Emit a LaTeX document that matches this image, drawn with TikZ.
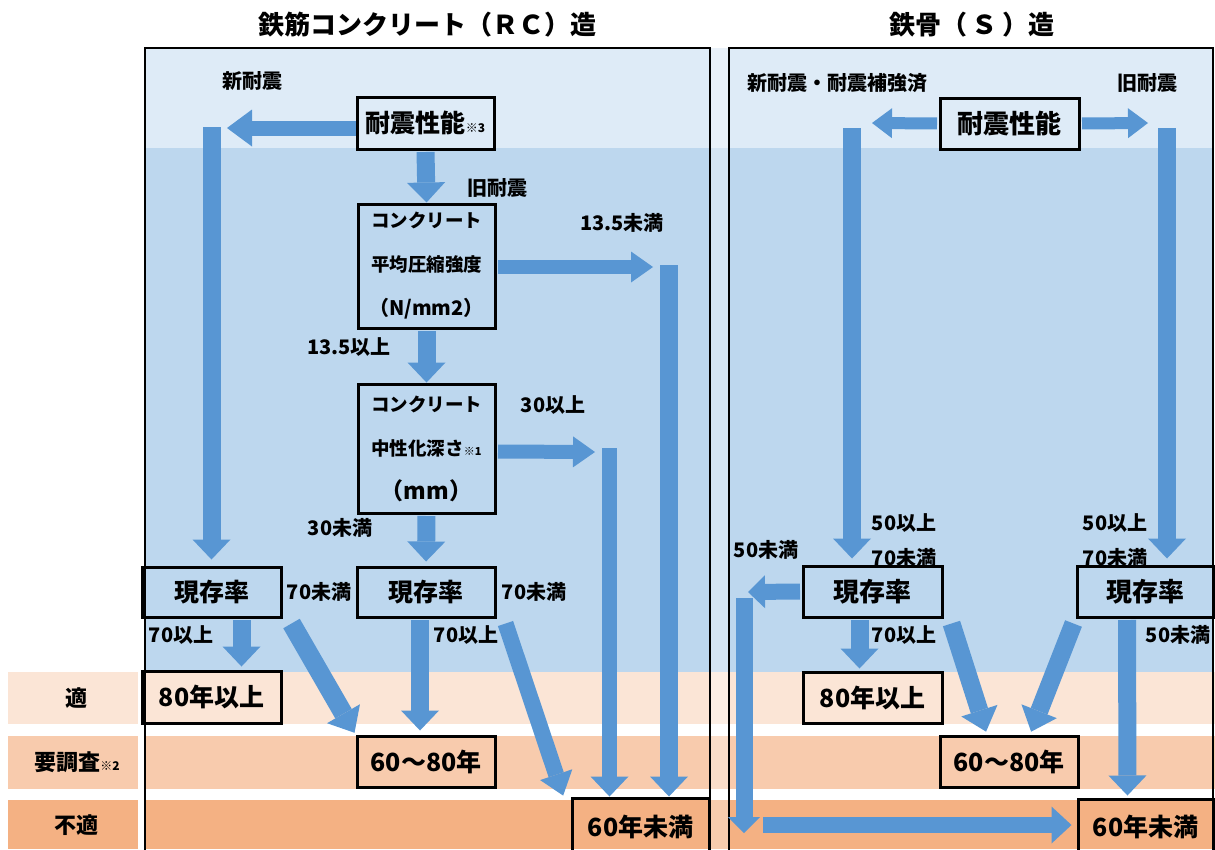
\documentclass[tikz,border=0pt]{standalone}
\usepackage{fontspec}
\setmainfont{Noto Sans CJK JP}
\usetikzlibrary{arrows.meta}
\definecolor{lblue}{HTML}{DEEBF7}
\definecolor{mblue}{HTML}{BDD7EE}
\definecolor{bandA}{HTML}{FBE5D6}
\definecolor{bandB}{HTML}{F8CBAD}
\definecolor{bandC}{HTML}{F4B183}
\definecolor{arr}{HTML}{5896D3}
\newcommand{\smallnote}[1]{{\fontsize{12}{12}\selectfont #1}}
\tikzset{
  box/.style={draw=black, line width=3pt, inner sep=0pt, font=\bfseries\fontsize{25}{28}\selectfont},
  cbox/.style={draw=black, line width=3pt, inner sep=0pt, align=center, font=\bfseries\fontsize{18.5}{44}\selectfont},
  lbl/.style={font=\bfseries\fontsize{20}{22}\selectfont, inner sep=0pt},
  ttl/.style={font=\bfseries\fontsize{26}{30}\selectfont, inner sep=0pt},
  varr/.style={draw=arr, line width=18pt, -{Triangle[width=38pt,length=20pt,line width=0pt]}},
  harrA/.style={draw=arr, line width=15pt, -{Triangle[width=37pt,length=25pt,line width=0pt]}},
  harrB/.style={draw=arr, line width=14pt, -{Triangle[width=31pt,length=22pt,line width=0pt]}},
  harrC/.style={draw=arr, line width=12pt, -{Triangle[width=30pt,length=20pt,line width=0pt]}},
  darr/.style={draw=arr, line width=18pt, -{Triangle[width=38pt,length=22pt,line width=0pt]}},
}
\begin{document}
\begin{tikzpicture}[x=1pt,y=-1pt]
\useasboundingbox (0,0) rectangle (1215,849);
% background bands
\fill[lblue] (145,48) rectangle (1213,148);
\fill[mblue] (145,148) rectangle (1213,672);
\fill[bandA] (145,672) rectangle (1215,724);
\fill[bandB] (145,736) rectangle (1215,789);
\fill[bandC] (145,800) rectangle (1215,849);
\fill[white,opacity=0.35] (711,48) rectangle (728,849);
\fill[bandA] (8,672) rectangle (138,724);
\fill[bandB] (8,736) rectangle (138,789);
\fill[bandC] (8,800) rectangle (138,849);
% panels
\draw[line width=1.2pt] (145,48) rectangle (710,870);
\draw[line width=1.2pt] (729,48) rectangle (1213,870);

% titles
\node[ttl] (t1) at (427,25) {鉄筋コンクリート（ＲＣ）造};
\node[ttl] (t2) at (972,25) {鉄骨（\,Ｓ\,）造};

% band labels
\node[font=\bfseries\fontsize{22}{24}\selectfont] (bA) at (76,698) {適};
\node[font=\bfseries\fontsize{22}{24}\selectfont] (bB) at (77,762) {要調査\smallnote{※2}};
\node[font=\bfseries\fontsize{22}{24}\selectfont] (bC) at (76,825) {不適};

% ===== RC panel =====
\node[lbl] (shinL) at (252,81) {新耐震};
\node[box, minimum width=137pt, minimum height=52pt] (tsL) at (425.5,123) {耐震性能\smallnote{※3}};
\node[lbl] (kyuL) at (497,188) {旧耐震};
\node[cbox, minimum width=137pt, minimum height=124pt] (c1) at (426.5,266) {コンクリート\\平均圧縮強度\\{\fontsize{20}{20}\selectfont （N/mm2）}};
\node[lbl] (l135u) at (622,223) {13.5未満};
\node[lbl] (l135o) at (349,347) {13.5以上};
\node[cbox, minimum width=137pt, minimum height=129pt] (c2) at (426.5,448.5) {コンクリート\\中性化深さ{\fontsize{11}{11}\selectfont ※1}\\{\fontsize{23}{23}\selectfont （mm）}};
\node[lbl] (l30o) at (553,405) {30以上};
\node[lbl] (l30u) at (340,528) {30未満};
\node[box, minimum width=139pt, minimum height=50pt] (gL1) at (211.5,592) {現存率};
\node[box, minimum width=138pt, minimum height=50pt] (gL2) at (426,592) {現存率};
\node[lbl] (l70uA) at (319,592) {70未満};
\node[lbl] (l70uB) at (534,592) {70未満};
\node[lbl] (l70oA) at (181,635) {70以上};
\node[lbl] (l70oB) at (466,635) {70以上};
\node[box, minimum width=139pt, minimum height=52pt] (a80L) at (211.5,697) {80年以上};
\node[box, minimum width=138pt, minimum height=51pt] (a68L) at (426,761.5) {60～80年};
\node[box, minimum width=137pt, minimum height=57pt] (a60L) at (640.5,826.5) {60年未満};

\coordinate (tsLtip) at (227,128);
\coordinate (vLtop) at (211.5,127);
\coordinate (c1tip) at (653,267);
\coordinate (s1top) at (669,265);
\coordinate (c2tip) at (595,452);
\coordinate (s2top) at (609.5,448);

\draw[harrA] ([yshift=-5pt]tsL.west) -- (tsLtip);
\draw[varr, shorten >=6pt] (vLtop) -- (gL1.north);
\draw[varr, shorten <=1.5pt] (tsL.south) -- (c1.north);
\draw[harrB, shorten <=1.5pt] ([yshift=-1pt]c1.east) -- (c1tip);
\draw[varr] (s1top) -- (s1top |- a60L.north);
\draw[varr, shorten <=1.5pt] (c1.south) -- (c2.north);
\draw[harrB, shorten <=1.5pt] ([yshift=-3pt]c2.east) -- (c2tip);
\draw[varr, line width=15pt] (s2top) -- (s2top |- a60L.north);
\draw[varr, shorten <=1.5pt, shorten >=4pt] (c2.south) -- (gL2.north);
\draw[varr, shorten <=1.5pt, shorten >=3pt] ([xshift=30pt]gL1.south) -- ([xshift=30pt]a80L.north);
\draw[darr, line width=19pt, shorten >=2pt] ([xshift=9pt,yshift=-5pt]gL1.south east) -- (a68L.north west);
\draw[varr, shorten <=1.5pt, shorten >=4pt] ([xshift=-6pt]gL2.south) -- ([xshift=-6pt]a68L.north);
\draw[darr, line width=16pt, -{Triangle[width=34pt,length=22pt,line width=0pt]}, shorten >=1pt] ([xshift=9pt,yshift=-5pt]gL2.south east) -- ([xshift=-7pt]a60L.north west);

% ===== S panel =====
\node[lbl] (shinR) at (837,83) {新耐震・耐震補強済};
\node[lbl] (kyuR) at (1147,83) {旧耐震};
\node[box, minimum width=139pt, minimum height=51pt, font=\bfseries\fontsize{26}{28}\selectfont] (tsR) at (1009.5,123.5) {耐震性能};
\node[lbl] (r50oA) at (904,523) {50以上};
\node[lbl] (r70uA) at (904,558) {70未満};
\node[lbl] (r50oB) at (1115,523) {50以上};
\node[lbl] (r70uB) at (1115,558) {70未満};
\node[lbl] (r50uA) at (766,550) {50未満};
\node[box, minimum width=139pt, minimum height=51pt, font=\bfseries\fontsize{26}{28}\selectfont] (gR1) at (872.5,591.5) {現存率};
\node[box, minimum width=136pt, minimum height=51pt, font=\bfseries\fontsize{26}{28}\selectfont] (gR2) at (1145,591.5) {現存率};
\node[lbl] (r70oA) at (904,635) {70以上};
\node[lbl] (r50uB) at (1178,635) {50未満};
\node[box, minimum width=139pt, minimum height=51pt] (a80R) at (872.5,697.5) {80年以上};
\node[box, minimum width=138pt, minimum height=51pt] (a68R) at (1009,761.5) {60～80年};
\node[box, minimum width=135pt, minimum height=56pt] (a60R) at (1145.5,827) {60年未満};

\coordinate (tRl) at (872,123);
\coordinate (tRr) at (1148,123);
\coordinate (vR1top) at (852,128);
\coordinate (vR2top) at (1167,128);
\coordinate (r50tip) at (748,592);
\coordinate (r50top) at (744,598);
\coordinate (r50bot) at (744,833);
\coordinate (r50h) at (763,825);

\draw[harrC, shorten <=1.5pt] (tsR.west) -- (tRl);
\draw[harrC, shorten <=1.5pt] (tsR.east) -- (tRr);
\draw[varr, shorten >=6pt] (vR1top) -- (vR1top |- gR1.north);
\draw[varr, shorten >=6pt] (vR2top) -- (vR2top |- gR2.north);
\draw[draw=arr, line width=16pt, -{Triangle[width=33pt,length=17pt,line width=0pt]}, shorten <=1.5pt] (gR1.west) -- (r50tip);
\draw[draw=arr, line width=17pt, -{Triangle[width=32pt,length=16pt,line width=0pt]}] (r50top) -- (r50bot);
\draw[draw=arr, line width=16pt, -{Triangle[width=37pt,length=20pt,line width=0pt]}, shorten >=5pt] (r50h) -- (a60R.west |- r50h);
\draw[varr, shorten <=1.5pt, shorten >=2pt] ([xshift=-13pt]gR1.south) -- ([xshift=-13pt]a80R.north);
\draw[darr, shorten >=3pt] ([xshift=8pt,yshift=-5pt]gR1.south east) -- ([xshift=-22pt]a68R.north);
\draw[darr, shorten >=3pt] ([xshift=-2pt,yshift=-5pt]gR2.south west) -- ([xshift=21pt]a68R.north);
\draw[varr, shorten <=1.5pt, shorten >=2pt] ([xshift=-18pt]gR2.south) -- ([xshift=-18pt]a60R.north);
\end{tikzpicture}
\end{document}
